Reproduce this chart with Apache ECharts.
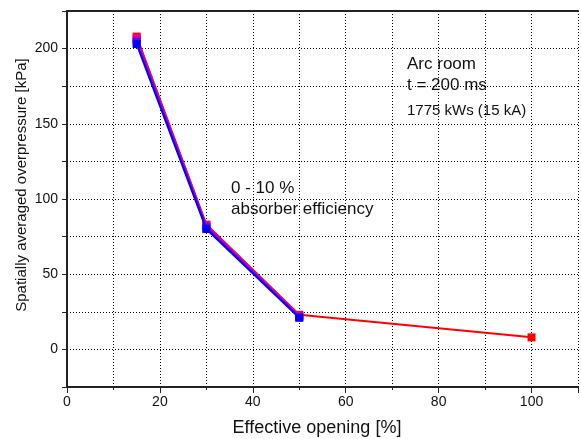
<!DOCTYPE html>
<html>
<head>
<meta charset="utf-8">
<script src="https://cdn.jsdelivr.net/npm/echarts@6/dist/echarts.min.js"></script>
<style>
  html, body { margin: 0; padding: 0; background: #fff; }
  #chart { width: 581px; height: 439px; }
</style>
</head>
<body>
<div id="chart"></div>
<script>
// 数据：有效开口 [%] 与 平均超压 [kPa]，0 - 10 % 吸收效率
var opening = [15, 30, 50, 100];
var eff0 = [208, 83, 23, 8];
var eff2 = [207, 82.5, 22.5];
var eff5 = [206, 82, 22];
var eff8 = [204.5, 81, 21.5];
var eff10 = [203, 80, 21];
var seriesColors = ['#FF0000', '#FF0080', '#C000C0', '#7000E0', '#0000FF'];
var xTicks = [0, 20, 40, 60, 80, 100];
var yTicks = [0, 50, 100, 150, 200];

var font = 'Liberation Sans, Arial, sans-serif';

function pairs(vals) {
	var out = [];
	for (var i = 0; i < vals.length; i++) {
		out.push([opening[i], vals[i]]);
	}
	return out;
}

var allSeries = [eff0, eff2, eff5, eff8, eff10].map(function (vals, i) {
	return {
		type: 'line',
		data: pairs(vals),
		symbol: 'rect',
		symbolSize: 8,
		lineStyle: { color: seriesColors[i], width: 2 },
		itemStyle: { color: seriesColors[i] },
		z: 2 + i,
		animation: false
	};
});

var myChart = echarts.init(document.getElementById('chart'));
var option = {
	backgroundColor: '#fff',
	grid: { left: 67, right: 0, top: 11, bottom: 52 },
	xAxis: [{
		type: 'value',
		min: 0,
		max: 110,
		interval: 20,
		axisLine: { show: true, onZero: false, lineStyle: { color: '#222', width: 2 } },
		axisTick: { show: true, inside: false, length: 6, lineStyle: { color: '#222', width: 1 } },
		minorTick: { show: true, splitNumber: 2, length: 3, lineStyle: { color: '#222', width: 1 } },
		axisLabel: {
			fontFamily: font, fontSize: 14, color: '#111', margin: 8,
			formatter: function (v) { return xTicks.indexOf(v) >= 0 ? String(v) : ''; }
		},
		splitLine: { show: true, lineStyle: { color: '#000', type: [1, 2], width: 1 } },
		minorSplitLine: { show: true, lineStyle: { color: '#000', type: [1, 2], width: 1 } }
	}, {
		// 上边框
		type: 'value',
		position: 'top',
		min: 0,
		max: 110,
		axisLine: { show: true, onZero: false, lineStyle: { color: '#222', width: 2 } },
		axisTick: { show: false },
		axisLabel: { show: false },
		splitLine: { show: false }
	}],
	yAxis: {
		type: 'value',
		min: -25,
		max: 225,
		interval: 25,
		axisLine: { show: true, onZero: false, lineStyle: { color: '#222', width: 2 } },
		axisTick: { show: true, inside: false, length: 5, lineStyle: { color: '#222', width: 1 } },
		axisLabel: {
			fontFamily: font, fontSize: 14, color: '#111', margin: 9,
			formatter: function (v) { return yTicks.indexOf(v) >= 0 ? String(v) : ''; }
		},
		splitLine: { show: true, lineStyle: { color: '#000', type: [1, 2], width: 1 } }
	},
	graphic: [
		{ type: 'text', x: 22, y: 185, rotation: Math.PI / 2,
			style: { text: 'Spatially averaged overpressure [kPa]', font: '15px ' + font, fill: '#111', align: 'center', verticalAlign: 'middle' } },
		{ type: 'text', x: 317, y: 428,
			style: { text: 'Effective opening [%]', font: '18px ' + font, fill: '#111', align: 'center', verticalAlign: 'middle' } },
		{ type: 'text', left: 407, top: 56, style: { text: 'Arc room', font: '17px ' + font, fill: '#111' } },
		{ type: 'text', left: 407, top: 77, style: { text: 't = 200 ms', font: '17px ' + font, fill: '#111' } },
		{ type: 'text', left: 407, top: 103, style: { text: '1775 kWs (15 kA)', font: '15px ' + font, fill: '#111' } },
		{ type: 'text', left: 231, top: 180, style: { text: '0 - 10 %', font: '17px ' + font, fill: '#111' } },
		{ type: 'text', left: 231, top: 201, style: { text: 'absorber efficiency', font: '17px ' + font, fill: '#111' } }
	],
	series: allSeries
};
myChart.setOption(option);
</script>
</body>
</html>
